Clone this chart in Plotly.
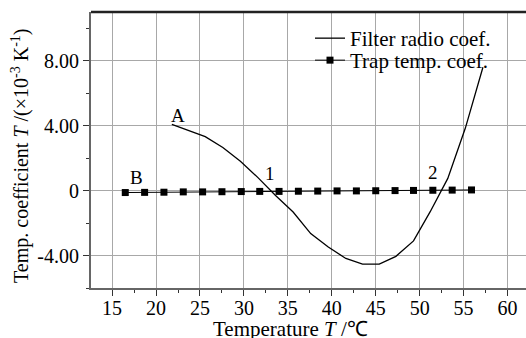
import plotly.graph_objects as go

# Filter radio coefficient curve
filter_x = [21.8, 23.6, 25.6, 27.6, 29.6, 31.6, 33.6, 35.6, 37.6, 39.6, 41.6,
            43.5, 45.4, 47.3, 49.3, 51.2, 53.2, 55.2, 57.2]
filter_y = [4.08, 3.70, 3.32, 2.65, 1.80, 0.80, -0.30, -1.32, -2.65, -3.48, -4.18,
            -4.53, -4.53, -4.05, -3.10, -1.30, 0.75, 3.85, 7.60]

# Trap temperature coefficient
trap_x = [16.5, 18.7, 20.9, 23.1, 25.3, 27.5, 29.7, 31.8, 34.0, 36.2, 38.4,
          40.6, 42.8, 45.0, 47.2, 49.3, 51.5, 53.7, 55.9]
trap_y = [-0.12, -0.11, -0.10, -0.08, -0.08, -0.07, -0.06, -0.05, -0.05, -0.04,
          -0.03, -0.02, -0.02, -0.01, 0.00, 0.01, 0.02, 0.03, 0.04]

x_ticks = [15, 20, 25, 30, 35, 40, 45, 50, 55, 60]
y_ticks = [-4, 0, 4, 8]
y_ticktext = ["-4.00", "0", "4.00", "8.00"]

labels = ["A", "B", "1", "2"]
label_x = [22.5, 17.8, 33.0, 51.5]
label_y = [4.65, 0.8, 1.05, 1.1]

FONT = "Liberation Serif, Times New Roman, serif"
L, R, T, B = 91, 0, 12, 50
W, H = 526, 338
PW, PH = W - L - R, H - T - B

def px_x(px):
    return (px - L) / PW

def px_y(py):
    return (H - B - py) / PH

fig = go.Figure()
fig.add_trace(go.Scatter(x=filter_x, y=filter_y, mode="lines",
                         name="Filter radio coef.", legend="legend",
                         line=dict(color="black", width=1.3)))
fig.add_trace(go.Scatter(x=trap_x, y=trap_y, mode="lines+markers",
                         name="Trap temp. coef.", legend="legend2",
                         line=dict(color="black", width=1),
                         marker=dict(symbol="square", size=7, color="black")))

for t, x, y in zip(labels, label_x, label_y):
    fig.add_annotation(x=x, y=y, text=t, showarrow=False,
                       font=dict(family=FONT, size=19, color="black"))

axis_common = dict(showline=True, linecolor="#666", linewidth=2,
                   ticks="outside", ticklen=6, tickwidth=1.2, tickcolor="#333",
                   showgrid=True, gridcolor="#a8a8a8", gridwidth=1,
                   zeroline=False,
                   tickfont=dict(family=FONT, size=20, color="black"))

legend_common = dict(xanchor="left", yanchor="top", bgcolor="rgba(255,255,255,0)",
                     borderwidth=0, font=dict(family=FONT, size=21, color="black"),
                     itemwidth=30)

fig.update_layout(
    width=W, height=H,
    margin=dict(l=L, r=R, t=T, b=B),
    paper_bgcolor="white", plot_bgcolor="white",
    showlegend=True,
    legend=dict(x=px_x(310), y=px_y(18), **legend_common),
    legend2=dict(x=px_x(310), y=px_y(40), **legend_common),
    xaxis=dict(range=[12.6, 62.1], tickvals=x_ticks, ticklabelstandoff=-5,
               minor=dict(ticks="outside", ticklen=3, tickcolor="#333",
                          dtick=2.5, tick0=12.5, showgrid=False),
               **axis_common),
    yaxis=dict(range=[-6, 11], tickvals=y_ticks, ticktext=y_ticktext,
               minor=dict(ticks="outside", ticklen=3, tickcolor="#333",
                          dtick=2, tick0=0, showgrid=False),
               **axis_common),
)

# white panel behind the legend, hiding gridlines but not the curves
fig.add_shape(type="rect", xref="paper", yref="paper", layer="between",
              x0=px_x(300), x1=px_x(483), y0=px_y(78), y1=px_y(23),
              fillcolor="white", line=dict(width=0))

fig.add_shape(type="line", xref="paper", yref="paper", x0=0, x1=1, y0=1, y1=1,
              line=dict(color="#222", width=2.5))

fig.add_annotation(xref="paper", yref="paper", x=px_x(290), y=px_y(329),
                   text="Temperature <i>T</i> /℃", showarrow=False,
                   xanchor="center", yanchor="middle",
                   font=dict(family=FONT, size=21, color="black"))
fig.add_annotation(xref="paper", yref="paper", x=px_x(20), y=px_y(156),
                   text="Temp. coefficient <i>T</i> /(×10<sup>-3</sup> K<sup>-1</sup>)",
                   textangle=-90, showarrow=False,
                   xanchor="center", yanchor="middle",
                   font=dict(family=FONT, size=20, color="black"))

fig.write_html("out.html", config={"displayModeBar": False},
               post_script="document.body.style.margin='0';")
